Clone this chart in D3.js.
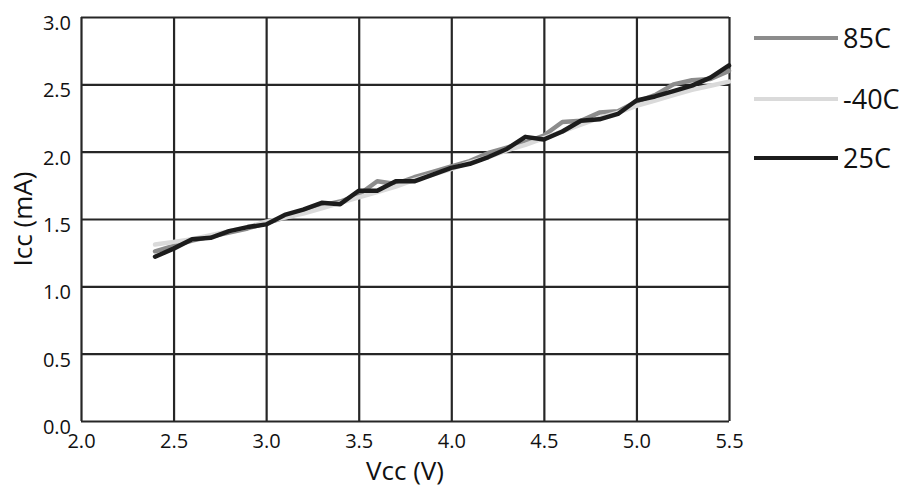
<!DOCTYPE html>
<html>
<head>
<meta charset="utf-8">
<script src="https://cdn.jsdelivr.net/npm/d3@7"></script>
<style>
  body { margin: 0; background: #fff; }
  text { font-family: "Open Sans", sans-serif; fill: #111; }
</style>
</head>
<body>
<div id="graph"></div>
<script>
const vcc = [2.4, 2.5, 2.6, 2.7, 2.8, 2.9, 3.0, 3.1, 3.2, 3.3, 3.4, 3.5, 3.6, 3.7, 3.8, 3.9,
             4.0, 4.1, 4.2, 4.3, 4.4, 4.5, 4.6, 4.7, 4.8, 4.9, 5.0, 5.1, 5.2, 5.3, 5.4, 5.5];
const icc85 = [1.26, 1.30, 1.34, 1.37, 1.40, 1.43, 1.47, 1.51, 1.55, 1.60, 1.63, 1.68, 1.78, 1.76, 1.81, 1.85,
               1.89, 1.93, 1.99, 2.03, 2.07, 2.12, 2.22, 2.23, 2.29, 2.30, 2.37, 2.42, 2.50, 2.53, 2.54, 2.60];
const iccM40 = [1.31, 1.33, 1.35, 1.38, 1.41, 1.44, 1.48, 1.51, 1.54, 1.58, 1.62, 1.66, 1.70, 1.74, 1.79, 1.83,
                1.87, 1.92, 1.96, 2.01, 2.05, 2.10, 2.15, 2.20, 2.25, 2.29, 2.34, 2.38, 2.42, 2.46, 2.49, 2.52];
const icc25 = [1.22, 1.28, 1.35, 1.36, 1.41, 1.44, 1.46, 1.53, 1.57, 1.62, 1.61, 1.71, 1.71, 1.78, 1.78, 1.83,
               1.88, 1.91, 1.96, 2.02, 2.11, 2.09, 2.15, 2.23, 2.24, 2.28, 2.38, 2.41, 2.45, 2.49, 2.55, 2.64];
const xTicks = [2.0, 2.5, 3.0, 3.5, 4.0, 4.5, 5.0, 5.5];
const yTicks = [0.0, 0.5, 1.0, 1.5, 2.0, 2.5, 3.0];

const series = [
  {name: "85C", values: icc85, color: "#8c8c8c"},
  {name: "-40C", values: iccM40, color: "#dadada"},
  {name: "25C", values: icc25, color: "#1c1c1c"}
];

const width = 906, height = 490;
const margin = {top: 17, right: 177, bottom: 69, left: 81};

const x = d3.scaleLinear().domain([2.0, 5.5]).range([margin.left, width - margin.right]);
const y = d3.scaleLinear().domain([0, 3.0]).range([height - margin.bottom, margin.top]);

const svg = d3.select("#graph").append("svg")
  .attr("width", width)
  .attr("height", height);

// grid + tick labels
svg.append("g")
  .attr("transform", `translate(0,${height - margin.bottom})`)
  .call(d3.axisBottom(x).tickValues(xTicks).tickSize(-(height - margin.top - margin.bottom)).tickFormat(d3.format(".1f")))
  .call(g => g.select(".domain").remove())
  .call(g => g.selectAll(".tick line").attr("stroke", "#262626").attr("stroke-width", 2.2))
  .call(g => g.selectAll(".tick text")
    .attr("dy", 0).attr("y", 27)
    .style("font-size", "20px").attr("fill", "#111"));

svg.append("g")
  .attr("transform", `translate(${margin.left},0)`)
  .call(d3.axisLeft(y).tickValues(yTicks).tickSize(-(width - margin.left - margin.right)).tickFormat(d3.format(".1f")))
  .call(g => g.select(".domain").remove())
  .call(g => g.selectAll(".tick line").attr("stroke", "#262626").attr("stroke-width", 2.2))
  .call(g => g.selectAll(".tick text")
    .attr("x", -10).attr("dy", "0.62em")
    .style("font-size", "20px").attr("fill", "#111"));

// lines
const line = d3.line()
  .x((d, i) => x(vcc[i]))
  .y(d => y(d));

series.forEach(s => {
  svg.append("path")
    .attr("fill", "none")
    .attr("stroke", s.color)
    .attr("stroke-width", 4.5)
    .attr("stroke-linejoin", "round")
    .attr("stroke-linecap", "round")
    .attr("d", line(s.values));
});

// axis titles
svg.append("text")
  .attr("x", (margin.left + width - margin.right) / 2)
  .attr("y", 480)
  .attr("text-anchor", "middle")
  .style("font-size", "26px")
  .text("Vcc (V)");

svg.append("text")
  .attr("transform", `translate(32,${(margin.top + height - margin.bottom) / 2}) rotate(-90)`)
  .attr("text-anchor", "middle")
  .style("font-size", "26px")
  .text("Icc (mA)");

// legend
const legendY = [38, 99, 158];
const legend = svg.append("g");
series.forEach((s, i) => {
  legend.append("line")
    .attr("x1", 754).attr("x2", 838)
    .attr("y1", legendY[i]).attr("y2", legendY[i])
    .attr("stroke", s.color)
    .attr("stroke-width", 4);
  legend.append("text")
    .attr("x", 843)
    .attr("y", legendY[i])
    .attr("dy", "0.36em")
    .style("font-size", "27px")
    .text(s.name);
});
</script>
</body>
</html>
